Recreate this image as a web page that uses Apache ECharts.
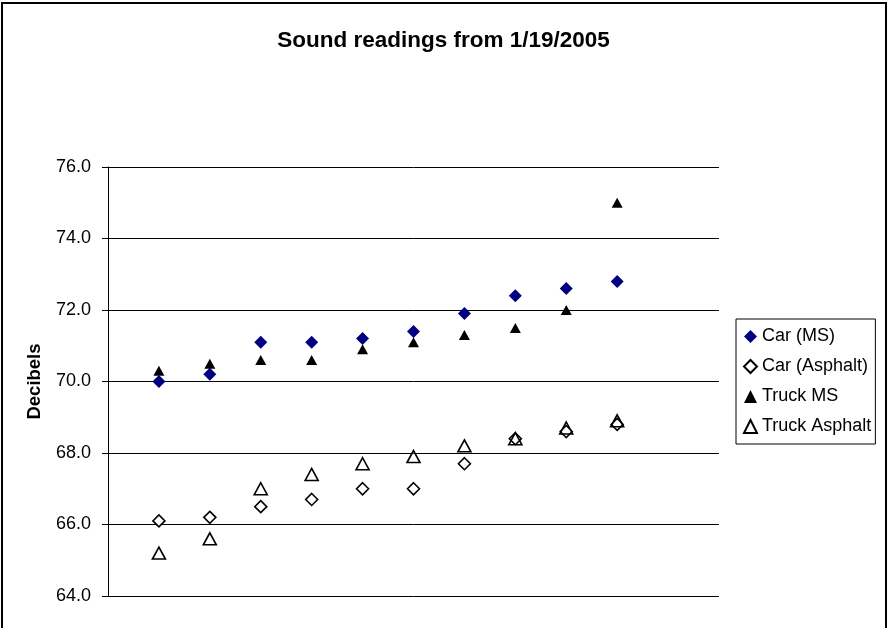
<!DOCTYPE html>
<html>
<head>
<meta charset="utf-8">
<title>Sound readings from 1/19/2005</title>
<script src="https://cdn.jsdelivr.net/npm/echarts@6/dist/echarts.min.js"></script>
<style>
  html, body { margin: 0; padding: 0; background: #fff; }
  #chart { width: 887px; height: 628px; }
</style>
</head>
<body>
<div id="chart"></div>
<script>
// Reading number along the road (1..10)
const readings = [1, 2, 3, 4, 5, 6, 7, 8, 9, 10];

// Decibel levels per vehicle / surface
const carMS        = [70.0, 70.2, 71.1, 71.1, 71.2, 71.4, 71.9, 72.4, 72.6, 72.8];
const carAsphalt   = [66.1, 66.2, 66.5, 66.7, 67.0, 67.0, 67.7, 68.4, 68.6, 68.8];
const truckMS      = [70.3, 70.5, 70.6, 70.6, 70.9, 71.1, 71.3, 71.5, 72.0, 75.0];
const truckAsphalt = [65.2, 65.6, 67.0, 67.4, 67.7, 67.9, 68.2, 68.4, 68.7, 68.9];

const yTicks = [64, 66, 68, 70, 72, 74, 76];

const pairs = vals => readings.map((r, i) => [r, vals[i]]);

const FONT = 'Arial, "Liberation Sans", sans-serif';

const chart = echarts.init(document.getElementById('chart'), null, { renderer: 'canvas' });

chart.setOption({
  backgroundColor: '#fff',
  animation: false,
  title: {
    text: 'Sound readings from 1/19/2005',
    left: 'center',
    top: 24,
    textStyle: { fontFamily: FONT, fontSize: 22.5, fontWeight: 'bold', color: '#000' }
  },
  graphic: [{
    type: 'rect',
    shape: { x: 2, y: 3, width: 884, height: 700 },
    style: { fill: 'none', stroke: '#000', lineWidth: 2 },
    silent: true
  }],
  legend: {
    orient: 'vertical',
    left: 736,
    top: 319,
    padding: [8, 4, 8, 7],
    itemGap: 11,
    itemWidth: 13,
    itemHeight: 13,
    borderColor: '#000',
    borderWidth: 1,
    textStyle: { fontFamily: FONT, fontSize: 18, color: '#000', lineHeight: 19 },
    data: ['Car (MS)', 'Car (Asphalt)', 'Truck MS', 'Truck Asphalt']
  },
  grid: { left: 108, top: 167, right: 168, bottom: 32, containLabel: false },
  xAxis: {
    type: 'value',
    min: 0,
    max: 12,
    show: false
  },
  yAxis: {
    type: 'value',
    min: yTicks[0],
    max: yTicks[yTicks.length - 1],
    interval: 2,
    name: 'Decibels',
    nameLocation: 'middle',
    nameGap: 64,
    nameRotate: 90,
    nameTextStyle: { fontFamily: FONT, fontSize: 18.5, fontWeight: 'bold', color: '#000' },
    axisLine: { show: true, lineStyle: { color: '#000', width: 1 } },
    axisTick: { show: true, inside: false, length: 6, lineStyle: { color: '#000' } },
    axisLabel: {
      margin: 17,
      fontFamily: FONT, fontSize: 18, color: '#000',
      formatter: v => v.toFixed(1)
    },
    splitLine: { show: true, lineStyle: { color: '#000', width: 1 } }
  },
  series: [
    {
      name: 'Car (MS)', type: 'scatter', data: pairs(carMS),
      symbol: 'diamond', symbolSize: 13,
      itemStyle: { color: '#000080', borderColor: '#000080', borderWidth: 0, opacity: 1 }
    },
    {
      name: 'Car (Asphalt)', type: 'scatter', data: pairs(carAsphalt),
      symbol: 'diamond', symbolSize: 12,
      itemStyle: { color: '#fff', borderColor: '#000', borderWidth: 1.6, opacity: 1 }
    },
    {
      name: 'Truck MS', type: 'scatter', data: pairs(truckMS),
      symbol: 'triangle', symbolSize: [11, 10],
      itemStyle: { color: '#000', borderColor: '#000', borderWidth: 0, opacity: 1 }
    },
    {
      name: 'Truck Asphalt', type: 'scatter', data: pairs(truckAsphalt),
      symbol: 'triangle', symbolSize: [13, 12],
      itemStyle: { color: 'rgba(255,255,255,0)', borderColor: '#000', borderWidth: 1.6, opacity: 1 }
    }
  ]
});
</script>
</body>
</html>
